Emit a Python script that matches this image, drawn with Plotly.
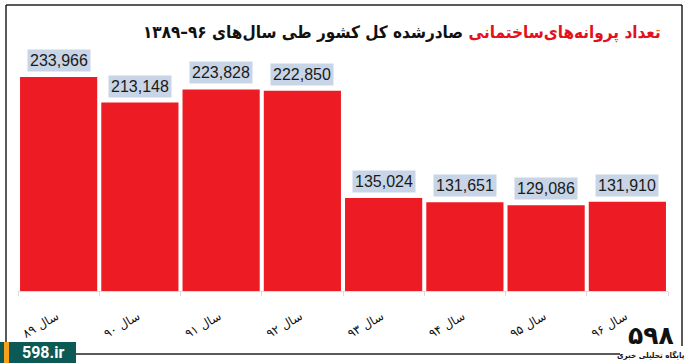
import plotly.graph_objects as go

categories = ["سال ۸۹", "سال ۹۰", "سال ۹۱", "سال ۹۲", "سال ۹۳", "سال ۹۴", "سال ۹۵", "سال ۹۶"]
values = [233966, 213148, 223828, 222850, 135024, 131651, 129086, 131910]
title_red = "تعداد پروانه‌های‌ساختمانی"
title_black = "صادرشده کل کشور طی سال‌های ۹۶–۱۳۸۹"

W, H = 690, 363
ML, MR, MT, MB = 18, 22, 60, 72
PW, PH = W - ML - MR, H - MT - MB


def px(x):
    return (x - ML) / PW


def py(y):
    return (H - MB - y) / PH


fig = go.Figure()
fig.add_trace(go.Bar(
    x=categories, y=values,
    marker=dict(color="#ed1c24", line=dict(width=0)),
    hoverinfo="x+y",
))

annotations = []
for c, v in zip(categories, values):
    annotations.append(dict(
        x=c, y=v, xref="x", yref="y", yanchor="bottom", yshift=5,
        text=f"{v:,}", showarrow=False,
        font=dict(family="Liberation Sans", size=16, color="#1a1a1a"),
        bgcolor="#c8d5e6", borderpad=2,
    ))

annotations.append(dict(
    x=px(663), y=py(32), xref="paper", yref="paper",
    xanchor="right", yanchor="middle", showarrow=False,
    text=f"<b><span style='color:#e3111b'>{title_red}</span> {title_black}</b>",
    font=dict(family="DejaVu Sans Condensed", size=17, color="#111111"),
))

# badge text
annotations.append(dict(
    x=px(43), y=py(352.5), xref="paper", yref="paper",
    xanchor="center", yanchor="middle", showarrow=False,
    text="<b>598.ir</b>",
    font=dict(family="Roboto", size=16, color="#ffffff"),
))
# logo
annotations.append(dict(
    x=px(651), y=py(335), xref="paper", yref="paper",
    xanchor="center", yanchor="middle", showarrow=False,
    text="<b>۵۹۸</b>",
    font=dict(family="DejaVu Sans", size=25, color="#111111"),
))
annotations.append(dict(
    x=px(651), y=py(355), xref="paper", yref="paper",
    xanchor="center", yanchor="middle", showarrow=False,
    text="<b>پایگاه تحلیلی خبری</b>",
    font=dict(family="DejaVu Sans Condensed", size=8, color="#111111"),
))

shapes = [
    # frame
    dict(type="line", xref="paper", yref="paper", x0=px(6), x1=px(682), y0=py(5), y1=py(5),
         line=dict(color="#222222", width=1.5)),
    dict(type="line", xref="paper", yref="paper", x0=px(6), x1=px(6), y0=py(5), y1=py(342),
         line=dict(color="#222222", width=1.5)),
    dict(type="line", xref="paper", yref="paper", x0=px(682), x1=px(682), y0=py(5), y1=py(346),
         line=dict(color="#222222", width=1.5)),
    dict(type="line", xref="paper", yref="paper", x0=px(76), x1=px(620), y0=py(354), y1=py(354),
         line=dict(color="#222222", width=1.5)),
    # badge
    dict(type="rect", xref="paper", yref="paper", x0=px(0), x1=px(76), y0=py(342), y1=py(363),
         fillcolor="#0b5a55", line=dict(width=0)),
    dict(type="rect", xref="paper", yref="paper", x0=px(4), x1=px(9), y0=py(342), y1=py(363),
         fillcolor="#f5a31a", line=dict(width=0)),
]

fig.update_layout(
    width=W, height=H,
    margin=dict(l=ML, r=MR, t=MT, b=MB),
    paper_bgcolor="#ffffff", plot_bgcolor="#ffffff",
    bargap=0.05,
    showlegend=False,
    annotations=annotations,
    shapes=shapes,
    xaxis=dict(
        type="category", tickangle=-30,
        tickfont=dict(family="DejaVu Sans", size=12, color="#111111"),
        showline=True, linecolor="#dcdcdc", linewidth=1,
        ticks="outside", ticklen=4, tickcolor="#dcdcdc",
        tickson="boundaries", showgrid=False,
        ticklabelshift=-2, ticklabelstandoff=13, automargin=False,
    ),
    yaxis=dict(range=[59000, 247900], visible=False, showgrid=False),
)

fig.write_html(
    "out.html",
    config={"displayModeBar": False},
    post_script="document.body.style.margin='0';document.body.style.overflow='hidden';",
)
